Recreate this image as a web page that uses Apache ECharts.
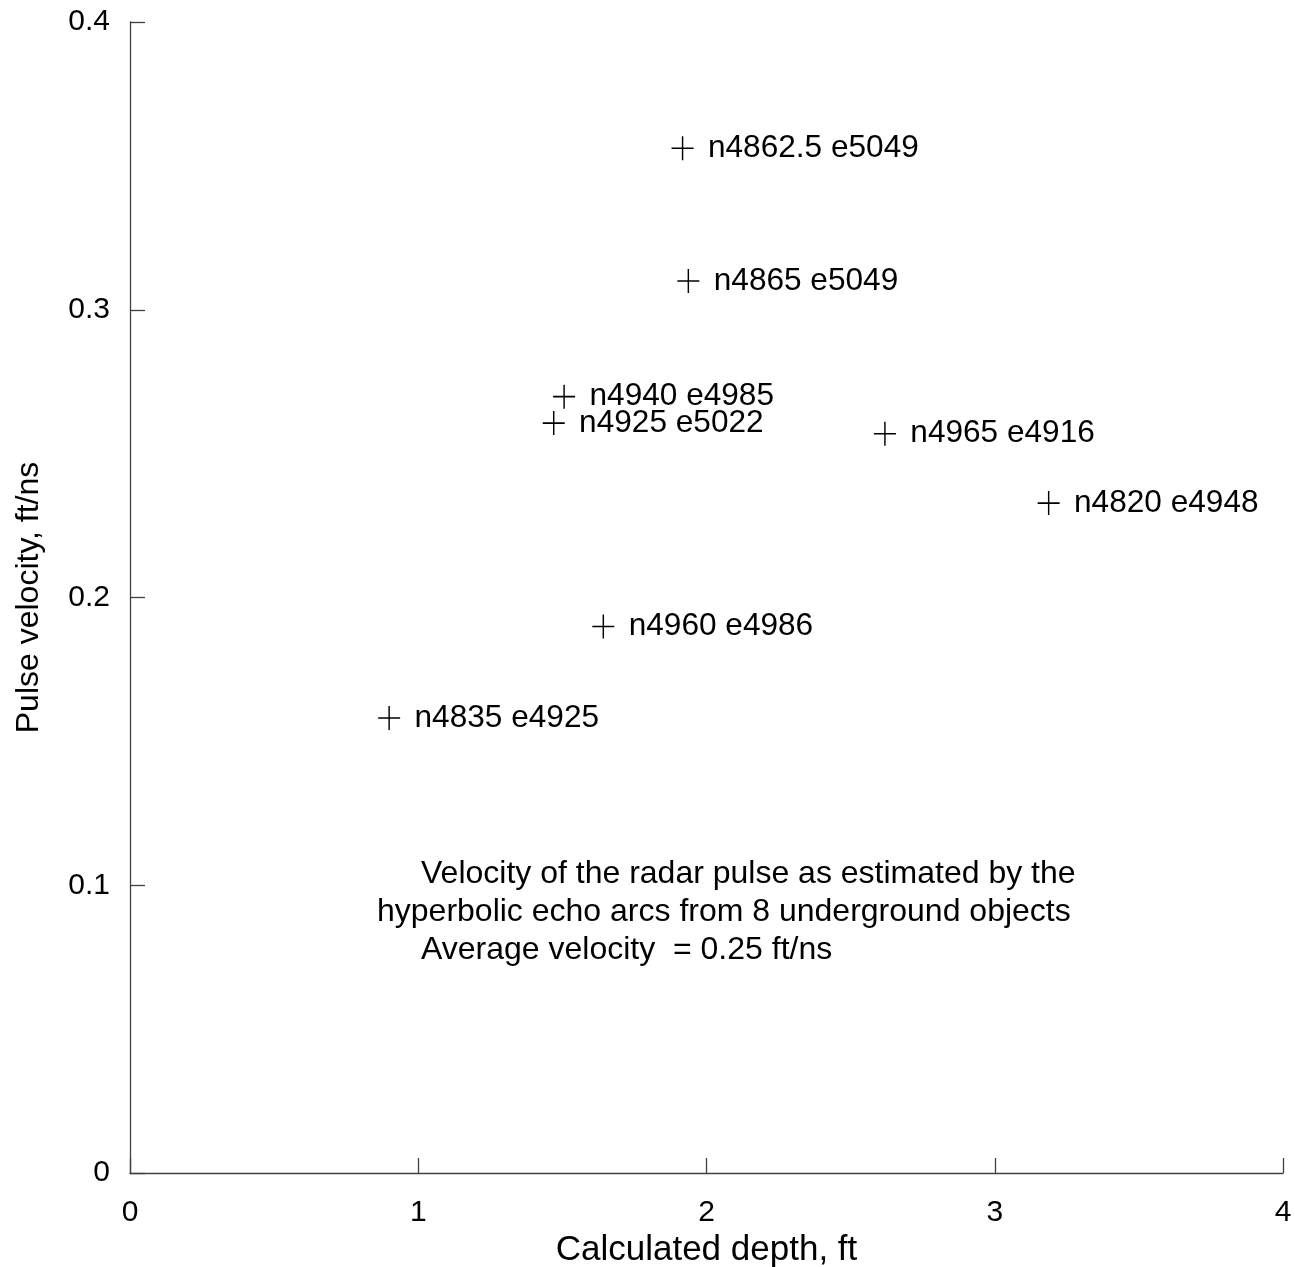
<!DOCTYPE html>
<html>
<head>
<meta charset="utf-8">
<script src="https://cdn.jsdelivr.net/npm/echarts@6/dist/echarts.min.js"></script>
<style>
  html, body { margin: 0; padding: 0; background: #fff; }
  #chart { width: 1295px; height: 1267px; }
</style>
</head>
<body>
<div id="chart"></div>
<script>
// Survey objects: location name, calculated depth (ft), pulse velocity (ft/ns)
const objectNames = [
  'n4862.5 e5049', 'n4865 e5049', 'n4940 e4985', 'n4925 e5022',
  'n4965 e4916', 'n4820 e4948', 'n4960 e4986', 'n4835 e4925'
];
const depthFt = [1.917, 1.937, 1.506, 1.470, 2.619, 3.187, 1.642, 0.899];
const velocityFtNs = [0.3561, 0.310, 0.2698, 0.2606, 0.2569, 0.2328, 0.1899, 0.1581];

const xTicks = [0, 1, 2, 3, 4];
const yTicks = [0, 0.1, 0.2, 0.3, 0.4];

// Caption lines and their left offsets (first and last lines are indented)
const noteLines = [
  'Velocity of the radar pulse as estimated by the',
  'hyperbolic echo arcs from 8 underground objects',
  'Average velocity  = 0.25 ft/ns'
];
const noteLeft = [421, 377, 421];

const points = depthFt.map((d, i) => ({ name: objectNames[i], value: [d, velocityFtNs[i]] }));

const fontMain = 'Liberation Sans, Arial, sans-serif';
const axisColor = '#404040';

const chart = echarts.init(document.getElementById('chart'), null, { renderer: 'canvas' });
chart.setOption({
  backgroundColor: '#ffffff',
  animation: false,
  grid: { left: 130, right: 12, top: 22, bottom: 94, outerBoundsMode: 'none', containLabel: false },
  xAxis: {
    type: 'value',
    min: xTicks[0], max: xTicks[xTicks.length - 1], interval: 1,
    name: 'Calculated depth, ft',
    nameLocation: 'middle', nameGap: 59,
    nameTextStyle: { fontFamily: fontMain, fontSize: 35, color: '#000' },
    axisLine: { show: true, lineStyle: { color: axisColor, width: 1.3 } },
    axisTick: { show: true, inside: true, length: 15, lineStyle: { color: axisColor, width: 1.3 } },
    axisLabel: { fontFamily: fontMain, fontSize: 30, color: '#000', margin: 25 },
    splitLine: { show: false }
  },
  yAxis: {
    type: 'value',
    min: yTicks[0], max: yTicks[yTicks.length - 1], interval: 0.1,
    name: 'Pulse velocity, ft/ns',
    nameLocation: 'middle', nameGap: 85,
    nameTextStyle: { fontFamily: fontMain, fontSize: 32, color: '#000' },
    axisLine: { show: true, lineStyle: { color: axisColor, width: 1.3 } },
    axisTick: { show: true, inside: true, length: 15, lineStyle: { color: axisColor, width: 1.3 } },
    axisLabel: { fontFamily: fontMain, fontSize: 30, color: '#000', margin: 20 },
    splitLine: { show: false }
  },
  series: [{
    type: 'scatter',
    data: points,
    symbol: 'path://M0,12L22,12M11,0L11,24',
    symbolSize: [22, 24],
    itemStyle: { color: 'none', borderColor: '#000', borderWidth: 1.5, opacity: 1 },
    label: {
      show: true,
      position: 'right',
      distance: 12,
      formatter: p => p.name,
      fontFamily: fontMain,
      fontSize: 31.6,
      color: '#000',
      opacity: 1,
      textBorderWidth: 0
    }
  }],
  graphic: noteLines.map((t, i) => ({
    type: 'text',
    left: noteLeft[i],
    top: 858 + i * 38,
    style: {
      text: t,
      fontFamily: fontMain,
      fontSize: 32,
      fill: '#000'
    }
  }))
});
</script>
</body>
</html>
